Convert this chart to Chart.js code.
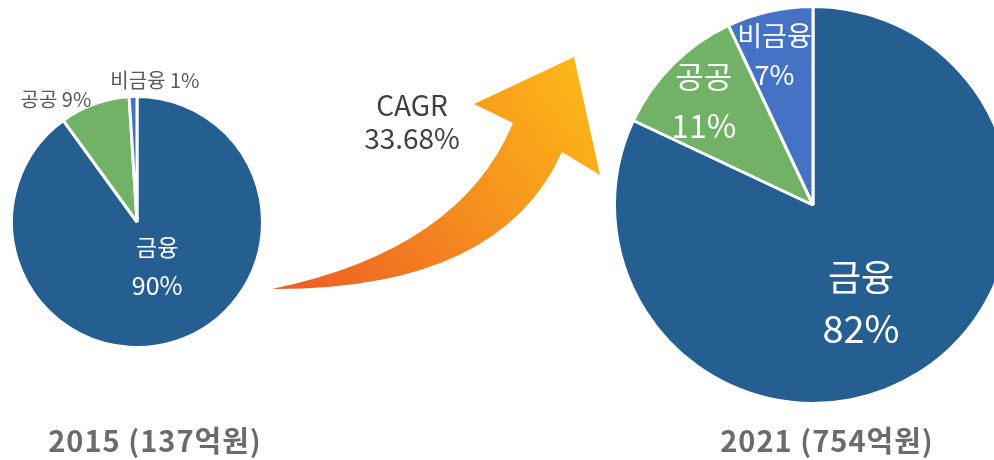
<!DOCTYPE html>
<html>
<head>
<meta charset="utf-8">
<script src="https://cdn.jsdelivr.net/npm/chart.js@4.4.1/dist/chart.umd.min.js"></script>
<style>
    html, body { margin: 0; padding: 0; background: #fff; }
    body { width: 994px; height: 460px; position: relative; overflow: hidden; }
    #left-wrap { position: absolute; left: 0; top: 0; width: 994px; height: 460px; }
    #right-wrap { position: absolute; left: 600px; top: 0; width: 420px; height: 460px; }
</style>
</head>
<body>
<div id="left-wrap"><canvas id="pie2015" width="994" height="460"></canvas></div>
<div id="right-wrap"><canvas id="pie2021" width="420" height="460"></canvas></div>
<script>
// market share by segment, %
const categories = ['금융', '공공', '비금융'];
const share2015 = [90, 9, 1];
const share2021 = [82, 11, 7];
const years = ['2015', '2021'];
const totals = [137, 754]; // 억원
const cagr = 33.68;

const sliceColors = ['#255E91', '#72B266', '#4472C4'];
const KR = '"Noto Sans CJK KR", "Noto Sans", sans-serif';

// draws the category / percent labels using each arc's geometry
const sliceLabels = {
    id: 'sliceLabels',
    afterDatasetsDraw(chart, args, opts) {
        const ctx = chart.ctx;
        const arcs = chart.getDatasetMeta(0).data;
        const values = chart.data.datasets[0].data;
        arcs.forEach((arc, i) => {
            const p = opts.place[i];
            const { x, y, startAngle, endAngle, outerRadius } = arc.getProps(['x', 'y', 'startAngle', 'endAngle', 'outerRadius'], true);
            const a = (startAngle + endAngle) / 2 + p.shift * Math.PI / 180;
            const cx = x + Math.cos(a) * outerRadius * p.f;
            const cy = y + Math.sin(a) * outerRadius * p.f;
            const name = chart.data.labels[i];
            const pct = values[i] + '%';
            ctx.save();
            ctx.textAlign = 'center';
            ctx.textBaseline = 'middle';
            if (p.inside) {
                ctx.fillStyle = '#fff';
                ctx.font = p.size + 'px ' + KR;
                ctx.fillText(name, cx, cy - p.gap / 2);
                ctx.font = p.size2 + 'px ' + KR;
                ctx.fillText(pct, cx, cy + p.gap / 2);
            } else {
                ctx.fillStyle = '#595959';
                ctx.font = p.size + 'px ' + KR;
                ctx.fillText(name + ' ' + pct, cx, cy);
            }
            ctx.restore();
        });
    }
};

// growth arrow, CAGR note and the year captions
const decor = {
    id: 'decor',
    afterDraw(chart) {
        const ctx = chart.ctx;
        ctx.save();
        const g = ctx.createLinearGradient(272, 289, 590, 60);
        g.addColorStop(0, '#EC5A24');
        g.addColorStop(0.5, '#F58B1F');
        g.addColorStop(1, '#FDBB17');
        ctx.fillStyle = g;
        ctx.beginPath();
        ctx.moveTo(272, 289);
        ctx.quadraticCurveTo(460, 250, 513, 123);
        ctx.lineTo(474, 104);
        ctx.lineTo(574, 57);
        ctx.lineTo(600, 175);
        ctx.lineTo(562, 152);
        ctx.quadraticCurveTo(500, 290, 272, 289);
        ctx.closePath();
        ctx.fill();

        ctx.fillStyle = '#404040';
        ctx.textAlign = 'center';
        ctx.textBaseline = 'middle';
        ctx.font = '28px ' + KR;
        ctx.fillText('CAGR', 412, 105);
        ctx.fillText(cagr.toFixed(2) + '%', 412, 138);

        ctx.fillStyle = '#6b6b6b';
        ctx.font = 'bold 29px ' + KR;
        ctx.letterSpacing = '1px';
        const caps = [[155, 441], [827, 441]];
        years.forEach((yr, i) => {
            ctx.fillText(yr + ' (' + totals[i] + '억원)', caps[i][0], caps[i][1]);
        });
        ctx.restore();
    }
};

function pieConfig(values, padding, place, extra) {
    return {
        type: 'pie',
        data: {
            labels: categories,
            datasets: [{
                data: values,
                backgroundColor: sliceColors,
                borderColor: '#ffffff',
                borderWidth: 3
            }]
        },
        options: {
            responsive: false,
            animation: false,
            layout: { padding },
            plugins: {
                legend: { display: false },
                tooltip: { enabled: false },
                sliceLabels: { place }
            }
        },
        plugins: [sliceLabels].concat(extra)
    };
}

new Chart(document.getElementById('pie2015'), pieConfig(share2015,
    { left: 10, right: 730, top: 95, bottom: 111 },
    [
        { inside: true, f: 0.39, shift: -6.4, size: 23, size2: 25, gap: 38 },
        { inside: false, f: 1.17, shift: -13.7, size: 20 },
        { inside: false, f: 1.14, shift: 9, size: 20 }
    ],
    [decor]));

new Chart(document.getElementById('pie2021'), pieConfig(share2021,
    { left: 13, right: 7, top: 5, bottom: 55 },
    [
        { inside: true, f: 0.55, shift: 6.3, size: 36, size2: 38, gap: 51 },
        { inside: true, f: 0.76, shift: -1.4, size: 31, size2: 32, gap: 50 },
        { inside: true, f: 0.78, shift: -1.8, size: 27, size2: 27, gap: 39 }
    ],
    []));
</script>
</body>
</html>
